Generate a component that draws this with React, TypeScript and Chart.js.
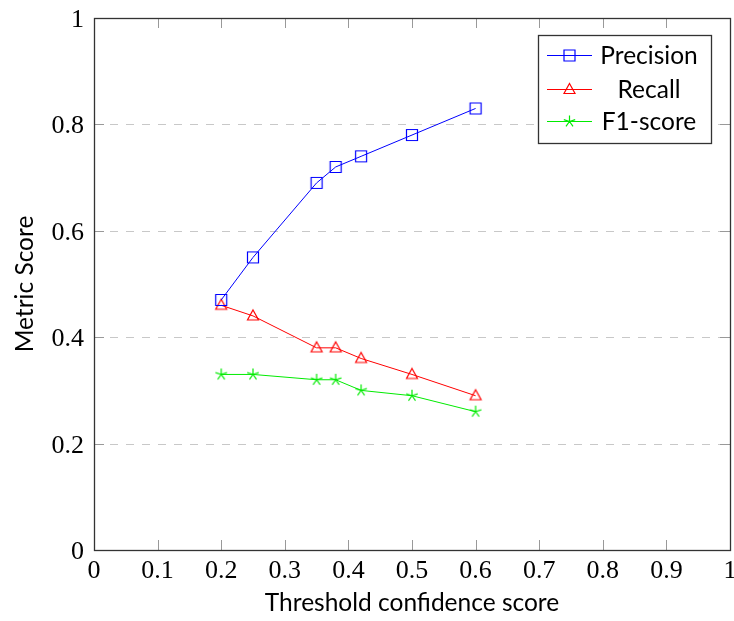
import React, { useEffect, useRef } from "react";
import { Chart, registerables } from "chart.js";

Chart.register(...registerables);

const thresholds = [0.2, 0.25, 0.35, 0.38, 0.42, 0.5, 0.6];
const precision = [0.47, 0.55, 0.69, 0.72, 0.74, 0.78, 0.83];
const recall = [0.46, 0.44, 0.38, 0.38, 0.36, 0.33, 0.29];
const f1 = [0.33, 0.33, 0.32, 0.32, 0.3, 0.29, 0.26];
const xTicks = [0, 0.1, 0.2, 0.3, 0.4, 0.5, 0.6, 0.7, 0.8, 0.9, 1];
const yTicks = [0, 0.2, 0.4, 0.6, 0.8, 1];
const xTitle = "Threshold confidence score";
const yTitle = "Metric Score";
const seriesNames = ["Precision", "Recall", "F1-score"];
const seriesColors = ["rgb(0,0,255)", "rgb(255,0,0)", "rgb(0,235,0)"];
const seriesMarkers = ["rect", "triangle", "star"];

const SERIF = "'Liberation Serif', 'DejaVu Serif', serif";
const SANS = "Lato, 'Open Sans', sans-serif";

const fmt = (v: number) => String(Number(v.toFixed(1)));

function drawMarker(ctx: CanvasRenderingContext2D, kind: string, x: number, y: number, color: string) {
  ctx.save();
  ctx.strokeStyle = color;
  ctx.lineWidth = 1.2;
  ctx.setLineDash([]);
  ctx.beginPath();
  if (kind === "rect") {
    ctx.rect(x - 5.5, y - 5.5, 11, 11);
    ctx.stroke();
  } else if (kind === "triangle") {
    ctx.moveTo(x, y - 6);
    ctx.lineTo(x + 5.5, y + 4);
    ctx.lineTo(x - 5.5, y + 4);
    ctx.closePath();
    ctx.stroke();
  } else {
    for (let i = 0; i < 5; i++) {
      const a = -Math.PI / 2 + (i * 2 * Math.PI) / 5;
      ctx.moveTo(x, y);
      ctx.lineTo(x + 6 * Math.cos(a), y + 6 * Math.sin(a));
    }
    ctx.stroke();
  }
  ctx.restore();
}

function makeMarkerCanvas(kind: string, color: string) {
  const c = document.createElement("canvas");
  c.width = 16;
  c.height = 16;
  const cx = c.getContext("2d");
  if (cx) drawMarker(cx, kind, 8, 8, color);
  return c;
}

const framePlugin = {
  id: "frame",
  beforeDatasetsDraw(chart: any) {
    const { ctx, chartArea: a, scales } = chart;
    const ys = scales.y;
    ctx.save();
    ctx.strokeStyle = "#c8c8c8";
    ctx.lineWidth = 1;
    ctx.setLineDash([8, 8]);
    yTicks.forEach((v) => {
      if (v <= 0 || v >= 1) return;
      const py = Math.round(ys.getPixelForValue(v)) + 0.5;
      ctx.beginPath();
      ctx.moveTo(a.left, py);
      ctx.lineTo(a.right, py);
      ctx.stroke();
    });
    ctx.restore();
  },
  afterDatasetsDraw(chart: any) {
    const { ctx, chartArea: a, scales } = chart;
    const xs = scales.x;
    const ys = scales.y;
    ctx.save();
    ctx.strokeStyle = "#999";
    ctx.lineWidth = 1;
    const tl = 10;
    xTicks.forEach((v) => {
      if (v <= 0 || v >= 1) return;
      const px = Math.round(xs.getPixelForValue(v)) + 0.5;
      ctx.beginPath();
      ctx.moveTo(px, a.bottom);
      ctx.lineTo(px, a.bottom - tl);
      ctx.moveTo(px, a.top);
      ctx.lineTo(px, a.top + tl);
      ctx.stroke();
    });
    yTicks.forEach((v) => {
      if (v <= 0 || v >= 1) return;
      const py = Math.round(ys.getPixelForValue(v)) + 0.5;
      ctx.beginPath();
      ctx.moveTo(a.left, py);
      ctx.lineTo(a.left + tl, py);
      ctx.moveTo(a.right, py);
      ctx.lineTo(a.right - tl, py);
      ctx.stroke();
    });
    ctx.strokeStyle = "#333";
    ctx.lineWidth = 1.3;
    ctx.strokeRect(Math.round(a.left) + 0.5, Math.round(a.top) + 0.5, Math.round(a.right - a.left), Math.round(a.bottom - a.top));

    // tick labels
    ctx.fillStyle = "#000";
    ctx.font = `26px ${SERIF}`;
    ctx.textBaseline = "alphabetic";
    ctx.textAlign = "center";
    xTicks.forEach((v) => {
      ctx.fillText(fmt(v), xs.getPixelForValue(v), a.bottom + 28);
    });
    ctx.textAlign = "right";
    yTicks.forEach((v) => {
      ctx.fillText(fmt(v), a.left - 10, ys.getPixelForValue(v) + 9);
    });

    // axis titles
    ctx.font = `24.5px ${SANS}`;
    ctx.textAlign = "center";
    ctx.textBaseline = "alphabetic";
    ctx.fillText(xTitle, (a.left + a.right) / 2, 611);
    ctx.save();
    ctx.translate(33, (a.top + a.bottom) / 2);
    ctx.rotate(-Math.PI / 2);
    ctx.fillText(yTitle, 0, 0);
    ctx.restore();

    // legend
    const lx = 538, ly = 35, lw = 173, lh = 108;
    ctx.fillStyle = "#fff";
    ctx.fillRect(lx, ly, lw, lh);
    ctx.strokeStyle = "#333";
    ctx.lineWidth = 1.3;
    ctx.strokeRect(lx + 0.5, ly + 0.5, lw, lh);
    const rows = [55, 89, 121];
    ctx.font = `24.5px ${SANS}`;
    ctx.textAlign = "center";
    ctx.textBaseline = "middle";
    rows.forEach((ry, i) => {
      ctx.strokeStyle = seriesColors[i];
      ctx.lineWidth = 1;
      ctx.beginPath();
      ctx.moveTo(547, ry + 0.5);
      ctx.lineTo(592, ry + 0.5);
      ctx.stroke();
      drawMarker(ctx, seriesMarkers[i], 569.5, ry + 0.5, seriesColors[i]);
      ctx.fillStyle = "#000";
      ctx.fillText(seriesNames[i], 649, ry + 1);
    });
    ctx.restore();
  },
};

export default function App() {
  const ref = useRef<HTMLCanvasElement | null>(null);
  useEffect(() => {
    if (!ref.current) return;
    const mk = (vals: number[]) => thresholds.map((x, i) => ({ x, y: vals[i] }));
    const ds = (i: number, vals: number[]) => ({
      label: seriesNames[i],
      data: mk(vals),
      borderColor: seriesColors[i],
      backgroundColor: "transparent",
      pointStyle: makeMarkerCanvas(seriesMarkers[i], seriesColors[i]),
      pointRadius: 8,
      borderWidth: 1,
    });
    const chart = new Chart(ref.current, {
      type: "line",
      data: {
        datasets: [ds(0, precision), ds(1, recall), ds(2, f1)],
      },
      options: {
        responsive: false,
        animation: false,
        layout: { autoPadding: false, padding: { top: 18, right: 4, left: 0, bottom: 0 } },
        plugins: { legend: { display: false }, tooltip: { enabled: false } },
        scales: {
          x: {
            type: "linear",
            min: 0,
            max: 1,
            afterFit: (s: any) => { s.height = 71; s.paddingLeft = 0; s.paddingRight = 0; },
            grid: { display: false },
            border: { display: false },
            ticks: { display: false },
          },
          y: {
            type: "linear",
            min: 0,
            max: 1,
            afterFit: (s: any) => { s.width = 94; s.paddingTop = 0; s.paddingBottom = 0; },
            grid: { display: false },
            border: { display: false },
            ticks: { display: false },
          },
        },
      },
      plugins: [framePlugin],
    });
    return () => chart.destroy();
  }, []);
  return (
    <div style={{ position: "absolute", left: 0, top: 0, width: 734, height: 621, background: "#fff" }}>
      <canvas ref={ref} width={734} height={621} />
    </div>
  );
}
